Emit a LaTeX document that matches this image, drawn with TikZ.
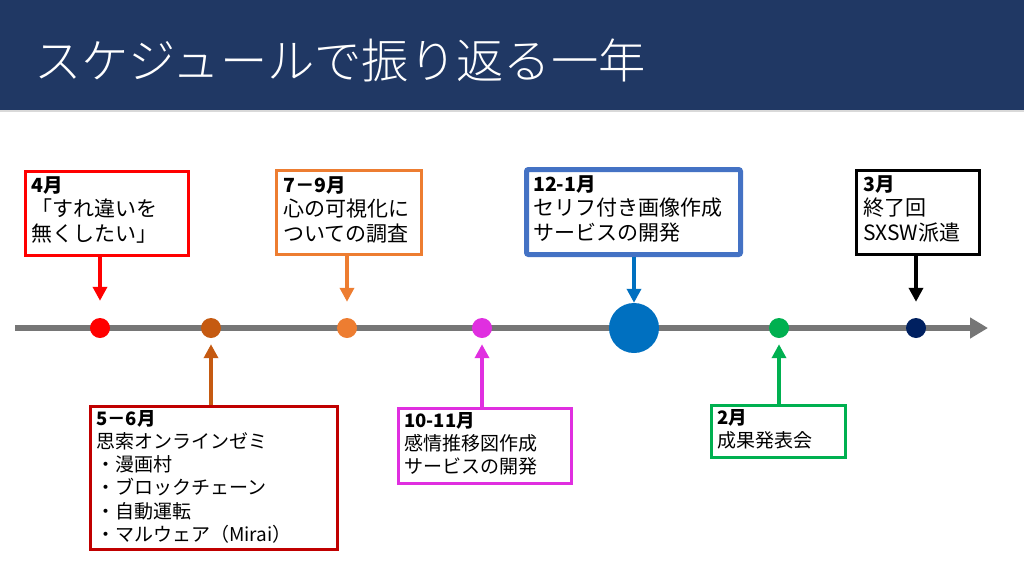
\documentclass[tikz,border=0pt]{standalone}
\usepackage{fontspec}
\setmainfont{Noto Sans CJK JP}
\newfontfamily\titlefont{Noto Sans CJK JP Light}
\usetikzlibrary{arrows.meta}

\definecolor{barnavy}{HTML}{203864}
\definecolor{linegray}{HTML}{767676}
\definecolor{evbrown}{HTML}{C55A11}
\definecolor{evdarkred}{HTML}{C00000}
\definecolor{evorange}{HTML}{ED7D31}
\definecolor{evmagenta}{HTML}{E02FE0}
\definecolor{evblue}{HTML}{0070C0}
\definecolor{evboxblue}{HTML}{4472C4}
\definecolor{evgreen}{HTML}{00B050}
\definecolor{evnavy}{HTML}{002060}

\newcommand{\evhead}[1]{{\fontsize{19.5}{24.5}\selectfont\bfseries #1}}
\newcommand{\evheadsm}[1]{{\fontsize{18.5}{23.2}\selectfont\bfseries #1}}

\tikzset{
  evbox/.style={draw, line width=3pt, fill=white, anchor=north west, inner sep=0pt},
  evtext/.style={anchor=north west, inner sep=0pt, align=left, font=\fontsize{21}{24.5}\selectfont},
  evtextsm/.style={anchor=north west, inner sep=0pt, align=left, font=\fontsize{19}{23.2}\selectfont},
  evdot/.style={circle, inner sep=0pt, minimum size=20pt},
  evarrow/.style={line width=4pt, -{Triangle[width=14pt,length=14pt]}},
}

\begin{document}
\begin{tikzpicture}[x=1pt, y=-1pt]
    \useasboundingbox (0,0) rectangle (1024,576);

    % title bar
    \fill[barnavy] (0,0) rectangle (1024,110);
    \fill[black!15] (0,110) rectangle (1024,112);
    \node[anchor=base west, inner sep=0pt, text=white, font=\titlefont\fontsize{47.3}{50}\selectfont] (title) at (34,78) {スケジュールで振り返る一年};

    % timeline
    \coordinate (tlstart) at (15,328);
    \coordinate (tlend) at (988,328);
    \draw[linegray, line width=6.5pt, -{Triangle[width=20pt,length=18pt]}] (tlstart) -- (tlend);

    \node[evdot, fill=red] (d4) at (100,328) {};
    \node[evdot, fill=evbrown] (d56) at (211,328) {};
    \node[evdot, fill=evorange] (d79) at (347,328) {};
    \node[evdot, fill=evmagenta] (d1011) at (482,328) {};
    \node[circle, inner sep=0pt, minimum size=50pt, fill=evblue] (d121) at (634,328) {};
    \node[evdot, fill=evgreen] (d2) at (779,328) {};
    \node[evdot, fill=evnavy] (d3) at (916,328) {};

    % boxes above
    \node[evbox, draw=red, minimum width=163pt, minimum height=84pt] (b4) at (23.5,169.5) {};
    \node[evbox, draw=evorange, minimum width=145pt, minimum height=84pt] (b79) at (274.5,168.5) {};
    \node[evbox, draw=evboxblue, line width=5pt, rounded corners=2pt, minimum width=214pt, minimum height=85pt] (b121) at (524,167) {};
    \node[evbox, draw=black, minimum width=123pt, minimum height=84pt] (b3) at (854.5,168.5) {};

    % boxes below
    \node[evbox, draw=evdarkred, minimum width=247pt, minimum height=143pt] (b56) at (88.5,404.5) {};
    \node[evbox, draw=evmagenta, minimum width=173pt, minimum height=75pt] (b1011) at (396.5,406.5) {};
    \node[evbox, draw=evgreen, minimum width=134pt, minimum height=52pt] (b2) at (709.5,403.5) {};

    % texts
    \node[evtext] (t4) at (31,176) {\evhead{4月}\\「すれ違いを\\無くしたい」};
    \node[evtext] (t79) at (283,176) {\evhead{7－9月}\\心の可視化に\\ついての調査};
    \node[evtext] (t121) at (533,175) {\evhead{12-1月}\\セリフ付き画像作成\\サービスの開発};
    \node[evtext] (t3) at (863,175) {\evhead{3月}\\終了回\\SXSW派遣};
    \node[evtextsm] (t56) at (96,410) {\evheadsm{5－6月}\\思索オンラインゼミ\\・漫画村\\・ブロックチェーン\\・自動運転\\・マルウェア（Mirai）};
    \node[evtextsm] (t1011) at (404,412) {\evheadsm{10-11月}\\感情推移図作成\\サービスの開発};
    \node[evtextsm] (t2) at (717,409) {\evheadsm{2月}\\成果発表会};

    % arrows
    \draw[evarrow, red, shorten >=17pt] (b4.south -| d4) -- (d4.north);
    \draw[evarrow, evorange, shorten >=16pt] (b79.south -| d79) -- (d79.north);
    \draw[evarrow, evblue] (b121.south -| d121) -- (d121.north);
    \draw[evarrow, black, shorten >=16pt] (b3.south -| d3) -- (d3.north);
    \draw[evarrow, evbrown, shorten >=6pt] (b56.north -| d56) -- (d56.south);
    \draw[evarrow, evmagenta, shorten >=6pt] (b1011.north -| d1011) -- (d1011.south);
    \draw[evarrow, evgreen, shorten >=6pt] (b2.north -| d2) -- (d2.south);
\end{tikzpicture}
\end{document}
